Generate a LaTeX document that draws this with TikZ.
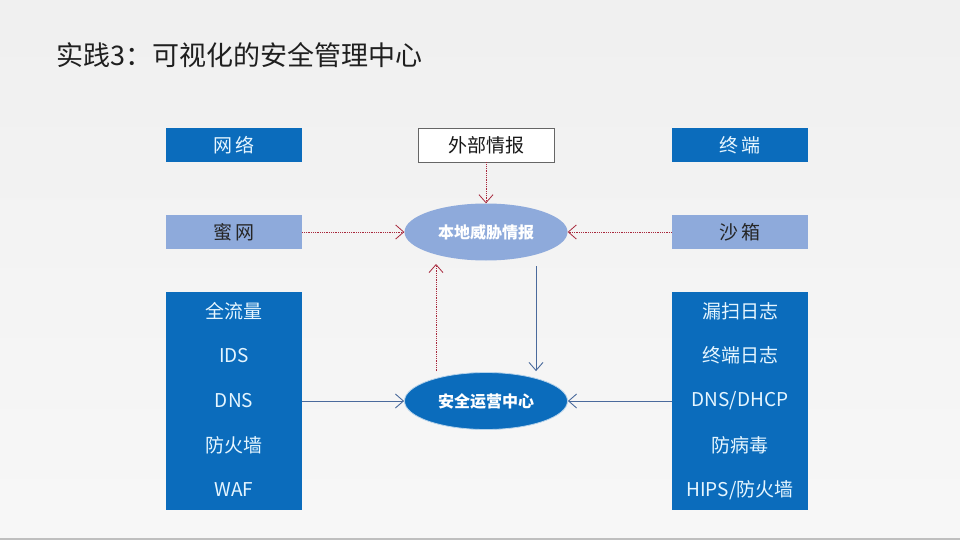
\documentclass[tikz,border=0pt]{standalone}
\usepackage{fontspec}
\newfontfamily\cjk{Noto Sans CJK SC}
\usepackage{tikz}
\usetikzlibrary{arrows.meta,positioning,shapes.geometric}
\definecolor{deepblue}{HTML}{0B6CBC}
\definecolor{paleblue}{HTML}{8EAADB}
\definecolor{dotred}{HTML}{A8283C}
\definecolor{linkblue}{HTML}{4A6A9C}
\definecolor{boxtext}{HTML}{E6F6FF}

\begin{document}
\begin{tikzpicture}[
    x=1pt, y=-1pt,
    font=\cjk,
    darkbox/.style={fill=deepblue, text=boxtext, minimum width=136pt,
                    minimum height=34pt, inner sep=0pt,
                    font=\cjk\fontsize{19}{22}\selectfont},
    lightbox/.style={darkbox, fill=paleblue, text=black!85},
    outbox/.style={darkbox, fill=white, draw=black!60, line width=0.8pt,
                   text=black!90},
    listbox/.style={fill=deepblue, minimum width=136pt, minimum height=218pt,
                    inner sep=0pt},
    listitem/.style={text=boxtext, inner sep=0pt,
                     font=\cjk\fontsize{19}{22}\selectfont},
    oval/.style={ellipse, minimum width=163pt, minimum height=57pt,
                 inner sep=0pt, text=white,
                 font=\cjk\bfseries\fontsize{16}{19}\selectfont},
    redarrow/.style={-{Straight Barb[length=8pt, width=14pt]}, dotred,
                     densely dotted, line width=0.8pt},
    bluearrow/.style={-{Straight Barb[length=8pt, width=14pt]}, linkblue,
                      line width=0.9pt}
]
% background
\useasboundingbox (0,0) rectangle (960,540);
\shade[top color=black!6, bottom color=black!3] (0,0) rectangle (960,538);
\fill[black!25] (0,538) rectangle (960,540);

% title
\node[anchor=west, inner sep=0pt, text=black!88,
      font=\cjk\fontsize{27}{30}\selectfont] (title) at (56,55)
    {实践3：可视化的安全管理中心};

% top row
\node[darkbox] (net) at (234,145) {网\,络};
\node[outbox] (extintel) at (486,145) {外部情报};
\node[darkbox] (term) at (740,145) {终\,端};

% second row
\node[lightbox] (honey) at (234,232) {蜜\,网};
\node[lightbox] (sandbox) at (740,232) {沙\,箱};
\node[oval, fill=paleblue] (localintel) at (486,232) {本地威胁情报};

% source lists
\node[listbox] (netlist) at (234,401) {};
\node[listbox] (termlist) at (740,401) {};
\foreach \txt [count=\i] in {全流量,IDS,DNS,防火墙,WAF}
  \node[listitem] (netitem\i) at (234,{311+(\i-1)*44.75}) {\txt};
\foreach \txt [count=\i] in {漏扫日志,终端日志,DNS/DHCP,防病毒,HIPS/防火墙}
  \node[listitem] (termitem\i) at (740,{311+(\i-1)*44.75}) {\txt};

% operations centre
\node[oval, fill=deepblue, draw=white!70!deepblue, line width=0.8pt]
    (soc) at (486,401) {安全运营中心};

% intel feeds
\draw[redarrow] (extintel) -- (localintel);
\draw[redarrow] (honey) -- (localintel);
\draw[redarrow] (sandbox) -- (localintel);
\draw[redarrow] (soc.north -| 436,0) ++(0,-1) -- (436,264);
\draw[bluearrow] (536,266) -- ([yshift=1pt]soc.north -| 536,0);

% log feeds
\draw[bluearrow] (netlist) -- (soc);
\draw[bluearrow] (termlist) -- (soc);
\end{tikzpicture}
\end{document}
